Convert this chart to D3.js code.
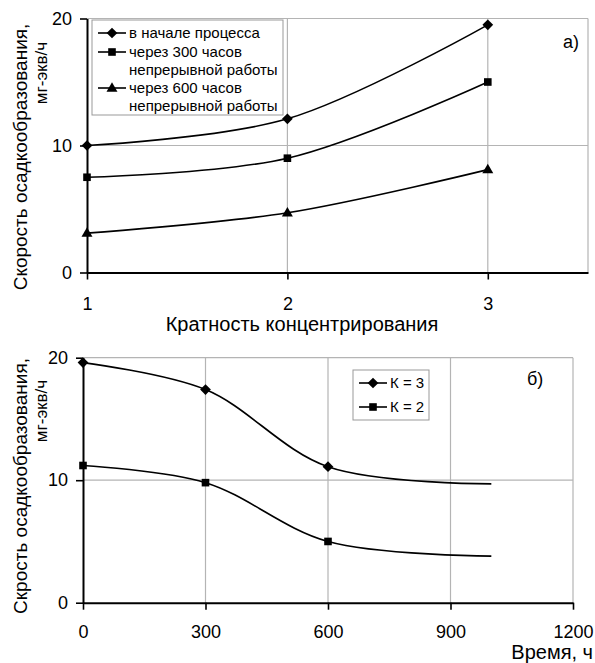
<!DOCTYPE html>
<html>
<head>
<meta charset="utf-8">
<script src="https://cdn.jsdelivr.net/npm/d3@7"></script>
<style>
  body { margin: 0; background: #fff; }
  text { font-family: "Liberation Sans", Arial, sans-serif; fill: #000; }
</style>
</head>
<body>
<svg id="chart" width="595" height="663"></svg>
<script>
// values
var ratioCategories = [1, 2, 3];
var seriesStart = [10.0, 12.1, 19.5];
var series300 = [7.5, 9.0, 15.0];
var series600 = [3.1, 4.7, 8.1];

var timeHours = [0, 300, 600, 1000];
var seriesK3 = [19.6, 17.4, 11.1, 9.7];
var seriesK2 = [11.2, 9.8, 5.0, 3.8];
var markedTimes = [0, 300, 600];

var rateTicks = [0, 10, 20];
var ratioTicks = [1, 2, 3];
var timeTicks = [0, 300, 600, 900, 1200];

var svg = d3.select("#chart");
var gridColor = "#b4b4b4";

function marker(g, shape, x, y) {
    if (shape == "diamond") {
        g.append("rect").attr("x", -3.8).attr("y", -3.8).attr("width", 7.6).attr("height", 7.6)
            .attr("transform", "translate(" + x + "," + y + ") rotate(45)");
    } else if (shape == "square") {
        g.append("rect").attr("x", x - 3.8).attr("y", y - 3.8).attr("width", 7.6).attr("height", 7.6);
    } else {
        g.append("path").attr("d", d3.symbol(d3.symbolTriangle, 52)())
            .attr("transform", "translate(" + x + "," + (y + 0.5) + ")");
    }
}

function drawPanel(opts) {
    var x = opts.x, y = opts.y;
    var g = svg.append("g");
    var x0 = x.range()[0], x1 = x.range()[1];
    var y0 = y.range()[0], y1 = y.range()[1];

    // grid + plot border
    g.append("g").selectAll("line").data(opts.yGrid).enter().append("line")
        .attr("x1", x0).attr("x2", x1)
        .attr("y1", function(d) { return y(d); }).attr("y2", function(d) { return y(d); })
        .attr("stroke", gridColor).attr("stroke-width", 1.2);
    g.append("g").selectAll("line").data(opts.xGrid).enter().append("line")
        .attr("y1", y0).attr("y2", y1)
        .attr("x1", function(d) { return x(d); }).attr("x2", function(d) { return x(d); })
        .attr("stroke", gridColor).attr("stroke-width", 1.2);

    var line = d3.line().curve(d3.curveCatmullRom.alpha(0.5))
        .x(function(d) { return x(d[0]); }).y(function(d) { return y(d[1]); });

    opts.series.forEach(function(s) {
        var pts = opts.xs.map(function(v, i) { return [v, s.values[i]]; });
        g.append("path").datum(pts).attr("d", line)
            .attr("fill", "none").attr("stroke", "#000").attr("stroke-width", 1.6);
    });

    var yAxis = d3.axisLeft(y).tickValues(rateTicks).tickFormat(d3.format("d"))
        .tickSize(7).tickPadding(8).tickSizeOuter(0);
    var ga = g.append("g").attr("transform", "translate(" + x0 + ",0)").call(yAxis);
    var xAxis = d3.axisBottom(x).tickValues(opts.xTicks).tickFormat(d3.format("d"))
        .tickSize(7).tickPadding(opts.xPad).tickSizeOuter(0);
    var gb = g.append("g").attr("transform", "translate(0," + y0 + ")").call(xAxis);
    [ga, gb].forEach(function(a) {
        a.select(".domain").attr("stroke", "#000").attr("stroke-width", 2);
        a.selectAll(".tick line").attr("stroke", "#000").attr("stroke-width", 1.6);
        a.selectAll(".tick text").attr("font-size", 18).attr("fill", "#000")
            .style("font-family", "'Liberation Sans', Arial, sans-serif");
    });

    opts.series.forEach(function(s) {
        var mg = g.append("g").attr("fill", "#000");
        opts.xs.forEach(function(v, i) {
            if (opts.marked.indexOf(v) >= 0) marker(mg, s.shape, x(v), y(s.values[i]));
        });
    });
    return g;
}

// ---- a) ----
var xTop = d3.scaleLinear().domain([1, 3.5]).range([87, 588]);
var yTop = d3.scaleLinear().domain([0, 20]).range([272.5, 18.5]);
drawPanel({
    x: xTop, y: yTop, xs: ratioCategories, marked: ratioCategories,
    xTicks: ratioTicks, xPad: 18, yGrid: [10, 20], xGrid: [2, 3, 3.5],
    series: [
        { values: seriesStart, shape: "diamond" },
        { values: series300, shape: "square" },
        { values: series600, shape: "triangle" }
    ]
});

// ---- б) ----
var xBot = d3.scaleLinear().domain([0, 1200]).range([83, 573]);
var yBot = d3.scaleLinear().domain([0, 20]).range([602.7, 357.7]);
drawPanel({
    x: xBot, y: yBot, xs: timeHours, marked: markedTimes,
    xTicks: timeTicks, xPad: 16, yGrid: [10, 20], xGrid: [300, 600, 900, 1200],
    series: [
        { values: seriesK3, shape: "diamond" },
        { values: seriesK2, shape: "square" }
    ]
});

// axis titles
function yTitle(first, cy1, cy2) {
    svg.append("text").attr("transform", "translate(27," + cy1 + ") rotate(-90)")
        .attr("text-anchor", "middle").attr("font-size", 19).text(first);
    svg.append("text").attr("transform", "translate(47," + cy2 + ") rotate(-90)")
        .attr("text-anchor", "middle").attr("font-size", 17).text("мг-экв/ч");
}
yTitle("Скорость осадкообразования,", 157, 73);
yTitle("Скрость осадкообразования,", 486, 411);

svg.append("text").attr("x", 302).attr("y", 331).attr("text-anchor", "middle")
    .attr("font-size", 20).text("Кратность концентрирования");
svg.append("text").attr("x", 593).attr("y", 659).attr("text-anchor", "end")
    .attr("font-size", 20).text("Время, ч");

svg.append("text").attr("x", 563).attr("y", 48).attr("font-size", 18).text("а)");
svg.append("text").attr("x", 527).attr("y", 385).attr("font-size", 18).text("б)");

// legends
function legend(x, y, w, h, rows) {
    var g = svg.append("g");
    g.append("rect").attr("x", x).attr("y", y).attr("width", w).attr("height", h)
        .attr("fill", "#fff").attr("stroke", "#999").attr("stroke-width", 1);
    rows.forEach(function(r) {
        if (r.shape) {
            g.append("line").attr("x1", x + 6).attr("x2", x + 34).attr("y1", r.y).attr("y2", r.y)
                .attr("stroke", "#000").attr("stroke-width", 1.6);
            marker(g.append("g").attr("fill", "#000"), r.shape, x + 20, r.y);
        }
        g.append("text").attr("x", x + 37).attr("y", r.y + 5).attr("font-size", 15).text(r.label);
    });
}
legend(92, 20, 191, 95, [
    { y: 33, shape: "diamond", label: "в начале процесса" },
    { y: 52, shape: "square", label: "через 300 часов" },
    { y: 70, shape: null, label: "непрерывной работы" },
    { y: 88, shape: "triangle", label: "через 600 часов" },
    { y: 106, shape: null, label: "непрерывной работы" }
]);
legend(353, 370, 76, 50, [
    { y: 383, shape: "diamond", label: "К = 3" },
    { y: 407, shape: "square", label: "К = 2" }
]);
</script>
</body>
</html>
